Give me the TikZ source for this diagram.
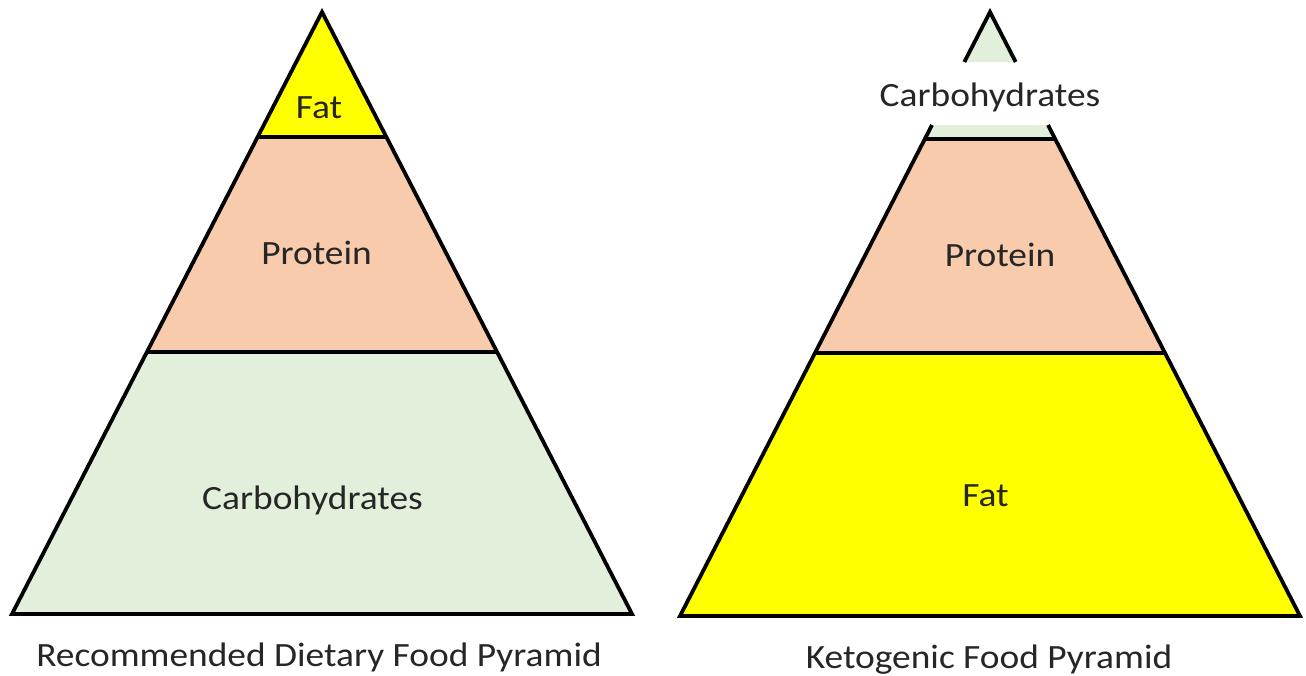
\documentclass[tikz,border=0pt]{standalone}
\usepackage{fontspec}
\setmainfont{Carlito}[FakeStretch=1.1]
\definecolor{fatyellow}{HTML}{FFFF00}
\definecolor{protpeach}{HTML}{F8CBAD}
\definecolor{carbgreen}{HTML}{E2EFDA}
\definecolor{labelgray}{HTML}{262626}

\begin{document}
\begin{tikzpicture}[x=0.5pt,y=-0.5pt,
  outline/.style={line width=1.9pt,line join=miter,line cap=butt},
  lbl/.style={anchor=base,inner sep=0pt,text=labelgray,font=\fontsize{17}{19}\selectfont}]
  \fill[white] (0,0) rectangle (1306,675);
  \useasboundingbox (0,0) rectangle (1306,675);

  % recommended pyramid
  \coordinate (rtop) at (322,12);
  \coordinate (rfl) at (257.6,137);  \coordinate (rfr) at (386.4,137);
  \coordinate (rpl) at (146.9,352);  \coordinate (rpr) at (497.1,352);
  \coordinate (rbl) at (12,614);     \coordinate (rbr) at (632,614);
  \fill[fatyellow] (rtop) -- (rfr) -- (rfl) -- cycle;
  \fill[protpeach] (rfl) -- (rfr) -- (rpr) -- (rpl) -- cycle;
  \fill[carbgreen] (rpl) -- (rpr) -- (rbr) -- (rbl) -- cycle;
  \draw[outline] (rtop) -- (rbr) -- (rbl) -- cycle;
  \draw[outline] (rfl) -- (rfr);
  \draw[outline] (rpl) -- (rpr);
  \node[lbl] (rfat) at (319,118) {Fat};
  \node[lbl] (rprot) at (316.5,264) {Protein};
  \node[lbl] (rcarb) at (312.5,509) {Carbohydrates};
  \node[lbl] (rcap) at (319,666) {Recommended Dietary Food Pyramid};

  % ketogenic pyramid
  \coordinate (ktop) at (990,12);
  \coordinate (kcl) at (964.3,62);   \coordinate (kcr) at (1015.7,62);
  \coordinate (kgl) at (932,125);    \coordinate (kgr) at (1048,125);
  \coordinate (kpl) at (924.8,139);  \coordinate (kpr) at (1055.2,139);
  \coordinate (kfl) at (815,353);    \coordinate (kfr) at (1165,353);
  \coordinate (kbl) at (680,616);    \coordinate (kbr) at (1300,616);
  \fill[carbgreen] (ktop) -- (kcr) -- (kcl) -- cycle;
  \fill[carbgreen] (kgl) -- (kgr) -- (kpr) -- (kpl) -- cycle;
  \fill[protpeach] (kpl) -- (kpr) -- (kfr) -- (kfl) -- cycle;
  \fill[fatyellow] (kfl) -- (kfr) -- (kbr) -- (kbl) -- cycle;
  \draw[outline] (kcl) -- (ktop) -- (kcr);
  \draw[outline] (kgl) -- (kbl) -- (kbr) -- (kgr);
  \draw[outline] (kpl) -- (kpr);
  \draw[outline] (kfl) -- (kfr);
  \node[lbl] (kcarb) at (990,106) {Carbohydrates};
  \node[lbl] (kprot) at (1000,266) {Protein};
  \node[lbl] (kfat) at (985.5,506) {Fat};
  \node[lbl] (kcap) at (989,668) {Ketogenic Food Pyramid};
\end{tikzpicture}
\end{document}
